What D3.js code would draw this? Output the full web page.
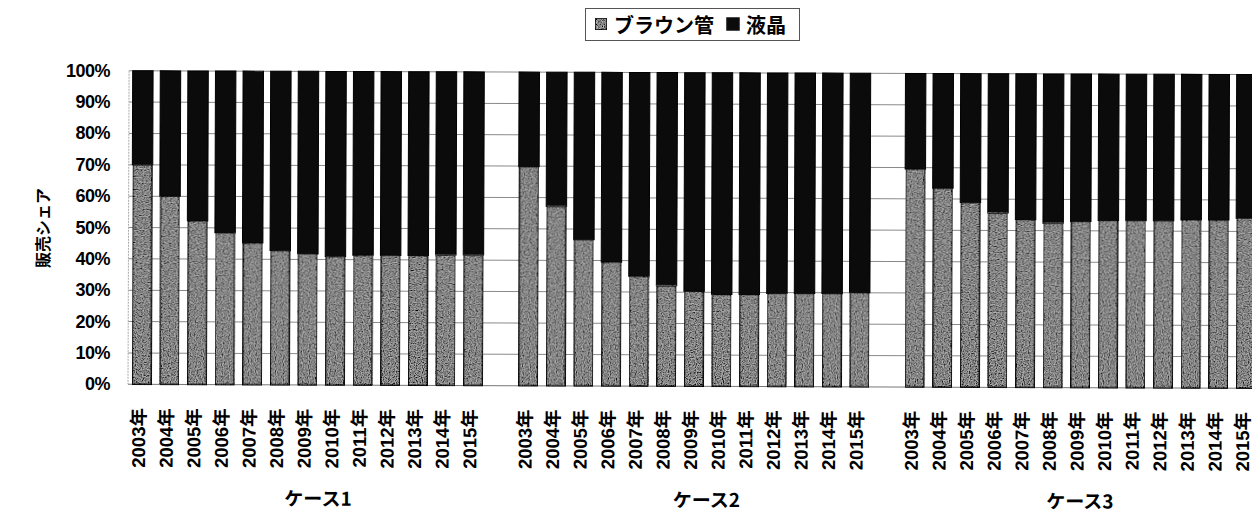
<!DOCTYPE html>
<html>
<head>
<meta charset="utf-8">
<script src="https://cdn.jsdelivr.net/npm/d3@7"></script>
<style>
  html, body { margin: 0; padding: 0; background: #fff; }
  svg { display: block; }
  text { font-weight: bold; fill: #000; }
</style>
</head>
<body>
<svg id="chart" width="1252" height="512"></svg>
<script>
// 販売シェア (%) of CRT (ブラウン管) TVs per year; LCD (液晶) takes the remainder to 100%.
const years = ["2003年","2004年","2005年","2006年","2007年","2008年","2009年","2010年","2011年","2012年","2013年","2014年","2015年"];
const cases = ["ケース1","ケース2","ケース3"];
const crtCase1 = [70, 60, 52.2, 48.4, 45.2, 42.8, 41.8, 41, 41.4, 41.4, 41.4, 41.6, 41.6];
const crtCase2 = [69.8, 57.2, 46.6, 39.5, 35, 32, 30.3, 29.3, 29.3, 29.7, 29.7, 29.7, 30];
const crtCase3 = [69.5, 63.4, 58.9, 55.6, 53.5, 52.4, 53.0, 53.3, 53.3, 53.3, 53.6, 53.6, 54.2];
const seriesNames = ["ブラウン管", "液晶"];
const yTicks = [0, 10, 20, 30, 40, 50, 60, 70, 80, 90, 100];
const yTitle = "販売シェア";

const crtByCase = [crtCase1, crtCase2, crtCase3];
const JP = "'Noto Sans CJK JP', 'Liberation Sans', sans-serif";
const NUM = "'Liberation Sans', 'Noto Sans CJK JP', sans-serif";

const svg = d3.select("#chart");

// one slot per bar, with an empty slot between cases
const slotsPerCase = years.length + 1;
const nSlots = cases.length * slotsPerCase - 1;
const rows = [];
cases.forEach((c, ci) => years.forEach((yr, yi) => {
  rows.push({ caseIdx: ci, year: yr, slot: ci * slotsPerCase + yi, crt: crtByCase[ci][yi] });
}));

const plotLeft = 128, step = 27.6;
const x = d3.scaleBand()
  .domain(d3.range(nSlots))
  .range([plotLeft, plotLeft + nSlots * step])
  .paddingInner(0.26).paddingOuter(0.13);
const y = d3.scaleLinear().domain([0, 100]).range([384.3, 70.7]);

const defs = svg.append("defs");
const grain = defs.append("filter").attr("id", "grain")
  .attr("x", 0).attr("y", 0).attr("width", "100%").attr("height", "100%");
grain.append("feTurbulence").attr("type", "fractalNoise").attr("baseFrequency", 0.85)
  .attr("numOctaves", 1).attr("seed", 4).attr("result", "noise");
grain.append("feColorMatrix").attr("in", "noise").attr("type", "matrix")
  .attr("values", "2.6 0 0 0 -0.8  2.6 0 0 0 -0.8  2.6 0 0 0 -0.8  0 0 0 0 1").attr("result", "gn");
grain.append("feBlend").attr("in", "SourceGraphic").attr("in2", "gn").attr("mode", "multiply").attr("result", "b");
grain.append("feComposite").attr("in", "b").attr("in2", "SourceAlpha").attr("operator", "in");

// the printed figure sits at a slight tilt
const plot = svg.append("g").attr("transform", `rotate(0.2, ${plotLeft}, 384)`);

// horizontal gridlines
plot.append("g").selectAll("line").data(yTicks.filter(t => t > 0)).join("line")
  .attr("x1", plotLeft).attr("x2", 1252 + 20)
  .attr("y1", d => y(d)).attr("y2", d => y(d))
  .attr("stroke", "#8a8a8a").attr("stroke-width", 1);
plot.append("line")
  .attr("x1", plotLeft).attr("x2", plotLeft).attr("y1", y(100)).attr("y2", y(0))
  .attr("stroke", "#aaa").attr("stroke-width", 1).attr("stroke-dasharray", "2,1");
plot.append("line")
  .attr("x1", plotLeft).attr("x2", 1272).attr("y1", y(0)).attr("y2", y(0))
  .attr("stroke", "#777").attr("stroke-width", 1);

const bars = plot.append("g");
// LCD segment (top)
bars.selectAll("rect.lcd").data(rows).join("rect").attr("class", "lcd")
  .attr("x", d => x(d.slot)).attr("width", x.bandwidth())
  .attr("y", y(100)).attr("height", d => y(d.crt) - y(100))
  .attr("fill", "#0b0b0b").attr("stroke", "#000").attr("stroke-width", 1);
// CRT segment (bottom)
bars.selectAll("rect.crt").data(rows).join("rect").attr("class", "crt")
  .attr("x", d => x(d.slot) + 0.75).attr("width", x.bandwidth() - 1.5)
  .attr("y", d => y(d.crt)).attr("height", d => y(0) - y(d.crt))
  .attr("fill", "#b4b4b4").attr("stroke", "#111").attr("stroke-width", 1.5)
  .attr("filter", "url(#grain)");

// year labels (rotated)
plot.append("g").selectAll("text").data(rows).join("text")
  .attr("transform", d => `translate(${x(d.slot) + x.bandwidth() / 2 - 3}, 408) rotate(-90)`)
  .attr("text-anchor", "end").attr("dominant-baseline", "central")
  .style("font-family", NUM).style("font-size", "18.5px")
  .text(d => d.year);

// case labels under each group
const caseShift = [11, 13, 0];
plot.append("g").selectAll("text").data(cases).join("text")
  .attr("x", (c, i) => {
    const mid = i * slotsPerCase + (years.length - 1) / 2;
    return x(mid) + x.bandwidth() / 2 + caseShift[i];
  })
  .attr("y", 505)
  .attr("text-anchor", "middle")
  .style("font-family", JP).style("font-size", "19px")
  .text(c => c);

// y axis tick labels
svg.append("g").selectAll("text").data(yTicks).join("text")
  .attr("x", 110).attr("y", d => y(d))
  .attr("text-anchor", "end").attr("dominant-baseline", "central")
  .style("font-family", NUM).style("font-size", "18px")
  .style("letter-spacing", "-0.5px")
  .text(d => d + "%");

// y axis title
svg.append("text")
  .attr("transform", "translate(42, 228) rotate(-90)")
  .attr("text-anchor", "middle").attr("dominant-baseline", "central")
  .style("font-family", JP).style("font-size", "16px")
  .text(yTitle);

// legend
const lg = svg.append("g");
lg.append("rect").attr("x", 585.5).attr("y", 8.5).attr("width", 214).attr("height", 32)
  .attr("fill", "#fff").attr("stroke", "#555").attr("stroke-width", 1);
const swFill = ["#b4b4b4", "#0b0b0b"];
const swX = [595, 727];
seriesNames.forEach((name, i) => {
  lg.append("rect").attr("x", swX[i]).attr("y", 18).attr("width", 12).attr("height", 12)
    .attr("fill", swFill[i]).attr("stroke", "#111").attr("stroke-width", 1.5)
    .attr("filter", i === 0 ? "url(#grain)" : null);
  lg.append("text").attr("x", swX[i] + 19).attr("y", 24.5)
    .attr("dominant-baseline", "central")
    .style("font-family", JP).style("font-size", "20px")
    .text(name);
});
</script>
</body>
</html>
